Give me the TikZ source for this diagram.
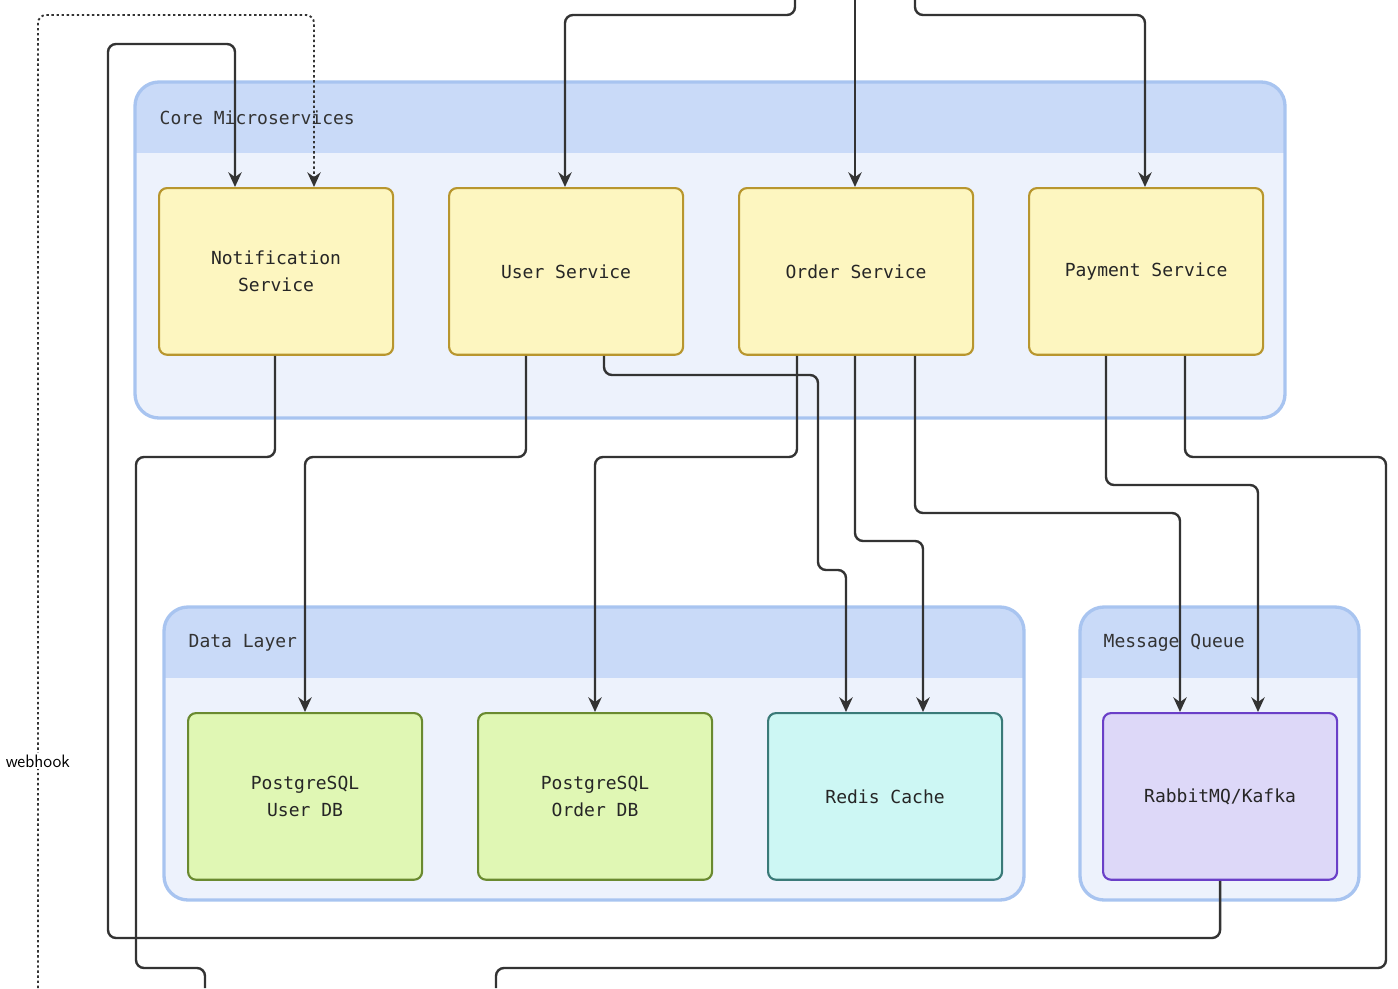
\documentclass[tikz,border=0pt]{standalone}
\usepackage{fontspec}
\setmonofont{DejaVu Sans Mono}
\usetikzlibrary{arrows.meta}
\definecolor{grpfill}{HTML}{EDF2FC}
\definecolor{grphead}{HTML}{C9DAF8}
\definecolor{grpline}{HTML}{A8C4F0}
\definecolor{edgec}{HTML}{333333}
\tikzset{
 x=0.75pt,y=-0.75pt,
 box/.style={draw,rounded corners=6pt,line width=1.6pt,minimum width=175.5pt,minimum height=125pt,anchor=north west,align=center,font=\ttfamily\fontsize{13.5}{20}\selectfont,text=black!85},
 svc/.style={box,fill=yellow!10!white!90!orange!0,fill={rgb,255:red,253;green,246;blue,192},draw={rgb,255:red,184;green,150;blue,46}},
 db/.style={box,fill={rgb,255:red,224;green,247;blue,180},draw={rgb,255:red,106;green,138;blue,48}},
 cache/.style={box,fill={rgb,255:red,205;green,247;blue,244},draw={rgb,255:red,58;green,122;blue,120}},
 mq/.style={box,fill={rgb,255:red,221;green,216;blue,248},draw={rgb,255:red,106;green,63;blue,200}},
 grplabel/.style={anchor=west,font=\ttfamily\fontsize{13.5}{16}\selectfont,text=black!80},
 edge/.style={draw=edgec,line width=1.8pt,rounded corners=6pt,-{Stealth[length=11pt,width=10pt]}},
 plain/.style={draw=edgec,line width=1.8pt,rounded corners=6pt},
}
\newcommand{\grp}[5]{%
 \begin{scope}
 \clip[rounded corners=18pt] (#1,#2) rectangle (#3,#4);
 \fill[grpfill] (#1,#2) rectangle (#3,#4);
 \fill[grphead] (#1,#2) rectangle (#3,#5);
 \end{scope}
 \draw[grpline,line width=2.5pt,rounded corners=18pt] (#1,#2) rectangle (#3,#4);}
\begin{document}
\begin{tikzpicture}
\useasboundingbox (0,0) rectangle (1398,988);
\grp{135}{82}{1285}{418}{153}
\node[grplabel] (gcore) at (155,118) {Core Microservices};
\grp{164}{607}{1024}{900}{678}
\node[grplabel] (gdata) at (184,643) {Data Layer};
\grp{1080}{607}{1359}{900}{678}
\node[grplabel] (gmq) at (1099,643) {Message Queue};

\node[svc] (notif) at (158,187) {Notification\\Service};
\node[svc] (user) at (448,187) {User Service};
\node[svc] (order) at (738,187) {Order Service};
\node[svc] (pay) at (1028,187) {Payment Service};
\node[db] (pgu) at (187,712) {PostgreSQL\\User DB};
\node[db] (pgo) at (477,712) {PostgreSQL\\Order DB};
\node[cache] (redis) at (767,712) {Redis Cache};
\node[mq] (rmq) at (1102,712) {RabbitMQ/Kafka};

\coordinate (in1) at (795,0);
\coordinate (in2) at (855,0);
\coordinate (in3) at (915,0);
\coordinate (hook) at (38,988);
\coordinate (out1) at (205,988);
\coordinate (out2) at (496,988);

\draw[edge] (in1) |- (565,15) -- (565,0 |- user.north);
\draw[edge] (in2) -- (855,0 |- order.north);
\draw[edge] (in3) |- (1145,15) -- (1145,0 |- pay.north);
\draw[edge] (rmq.south) |- (108,938) |- (235,44) -- (235,0 |- notif.north);
\draw[edge,dotted,line width=1.4pt] (hook) |- (314,15) -- (314,0 |- notif.north);
\node[fill=white,inner sep=1pt,font=\fontsize{13.5}{16}\selectfont\sffamily] (wh) at (38,761) {webhook};
\draw[plain] (275,0 |- notif.south) |- (136,457) |- (205,968) -- (out1);
\draw[edge] (526,0 |- user.south) |- (305,457) -- (305,0 |- pgu.north);
\draw[edge] (604,0 |- user.south) |- (818,375) |- (846,570) -- (846,0 |- redis.north);
\draw[edge] (797,0 |- order.south) |- (595,457) -- (595,0 |- pgo.north);
\draw[edge] (855,0 |- order.south) |- (923,541) -- (923,0 |- redis.north);
\draw[edge] (915,0 |- order.south) |- (1180,513) -- (1180,0 |- rmq.north);
\draw[edge] (1106,0 |- pay.south) |- (1258,485) -- (1258,0 |- rmq.north);
\draw[plain] (1185,0 |- pay.south) |- (1386,457) |- (496,968) -- (out2);
\end{tikzpicture}
\end{document}
